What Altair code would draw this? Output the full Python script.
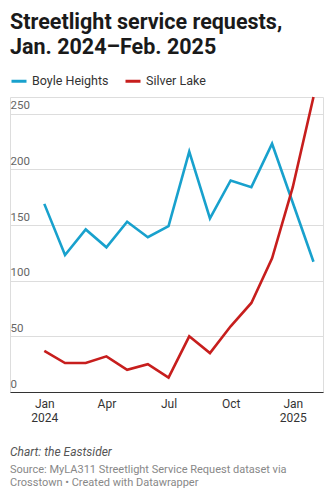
import altair as alt
import pandas as pd

months = ["Jan 2024", "Feb 2024", "Mar 2024", "Apr 2024", "May 2024", "Jun 2024",
          "Jul 2024", "Aug 2024", "Sep 2024", "Oct 2024", "Nov 2024", "Dec 2024",
          "Jan 2025", "Feb 2025"]
month_index = list(range(len(months)))
boyle_heights = [169, 123, 146, 130, 153, 139, 149, 216, 156, 190, 184, 223, 170, 117]
silver_lake = [37, 26, 26, 32, 20, 25, 13, 50, 35, 59, 80, 120, 184, 265]
series_names = ["Boyle Heights", "Silver Lake"]
series_colors = ["#18a1cd", "#c71e1d"]
y_ticks = [0, 50, 100, 150, 200, 250]
x_ticks = [0, 3, 6, 9, 12]
credit_text = "Chart: the Eastsider"
source_lines = ["Source: MyLA311 Streetlight Service Request dataset via",
                "Crosstown \u2022 Created with Datawrapper"]

rows = []
for i, m in enumerate(months):
    rows.append({"idx": month_index[i], "month": m, "series": "Boyle Heights", "value": boyle_heights[i]})
    rows.append({"idx": month_index[i], "month": m, "series": "Silver Lake", "value": silver_lake[i]})
df = pd.DataFrame(rows)

FONT = "Roboto"
W, H = 313, 295

label_expr = ("datum.value == 0 ? ['Jan', '2024'] : datum.value == 3 ? 'Apr' : "
              "datum.value == 6 ? 'Jul' : datum.value == 9 ? 'Oct' : ['Jan', '2025']")

lines = alt.Chart(df).mark_line(strokeWidth=2.6, strokeJoin="miter", clip=False).encode(
    x=alt.X("idx:Q",
            scale=alt.Scale(domain=[-1.657, 13.46], nice=False, zero=False),
            axis=alt.Axis(values=x_ticks, labelExpr=label_expr, title=None, grid=False,
                          ticks=False, domainColor="#333333", domainWidth=1,
                          labelFont=FONT, labelFontSize=12, labelColor="#333333",
                          labelPadding=6, labelLineHeight=14.5, labelFlush=False)),
    y=alt.Y("value:Q",
            scale=alt.Scale(domain=[0, 265], nice=False),
            axis=alt.Axis(values=y_ticks, title=None, domain=False, ticks=False, tickSize=0,
                          grid=True, gridColor="#dddddd", gridWidth=1,
                          labelAlign="left", labelBaseline="alphabetic", labelPadding=0,
                          labelOffset=-5, labelFont=FONT, labelFontSize=11.5,
                          labelColor="#666666")),
    color=alt.Color("series:N",
                    scale=alt.Scale(domain=series_names, range=series_colors),
                    legend=alt.Legend(orient="none", legendX=0, legendY=-25, direction="horizontal",
                                      title=None, symbolType="stroke", symbolSize=225,
                                      symbolStrokeWidth=3, labelFont=FONT, labelFontSize=12.5,
                                      labelColor="#333333", labelOffset=4, columnPadding=10,
                                      padding=0)),
    detail="series:N",
)

credit = alt.Chart(alt.Data(values=[{"t": credit_text}])).mark_text(
    align="left", baseline="middle", font=FONT, fontSize=12, fontStyle="italic", color="#555555"
).encode(x=alt.value(0), y=alt.value(355), text="t:N")

source1 = alt.Chart(alt.Data(values=[{"t": source_lines[0]}])).mark_text(
    align="left", baseline="middle", font=FONT, fontSize=11, color="#888888"
).encode(x=alt.value(0), y=alt.value(373), text="t:N")
source2 = alt.Chart(alt.Data(values=[{"t": source_lines[1]}])).mark_text(
    align="left", baseline="middle", font=FONT, fontSize=11, color="#888888"
).encode(x=alt.value(0), y=alt.value(385.7), text="t:N")

chart = alt.layer(lines, credit, source1, source2).properties(
    width=W, height=H,
    autosize=alt.AutoSizeParams(type="none"),
    padding={"left": 10, "top": 97, "right": 10, "bottom": 108},
    title=alt.TitleParams(text=["Streetlight service requests,", "Jan. 2024\u2013Feb. 2025"],
                          anchor="start", font=FONT, fontSize=21.5, fontWeight="bold",
                          color="#1a1a1a", lineHeight=24.5, offset=14),
).configure_view(stroke=None).configure(background="white")

chart.save("out.html", embed_options={"renderer": "svg", "actions": False})
